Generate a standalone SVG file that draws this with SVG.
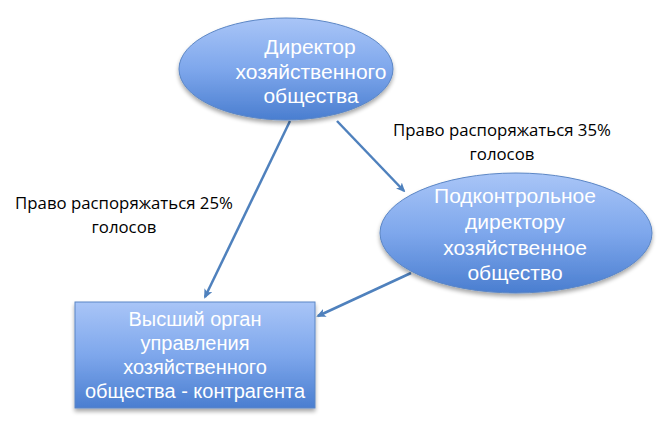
<svg xmlns="http://www.w3.org/2000/svg" width="672" height="429" viewBox="0 0 672 429">
<defs>
<linearGradient id="g" x1="0" y1="0" x2="0" y2="1">
<stop offset="0" stop-color="#a9c5f7"/>
<stop offset="0.5" stop-color="#7ea7ec"/>
<stop offset="1" stop-color="#4a7ed0"/>
</linearGradient>
<filter id="sh" x="-10%" y="-10%" width="120%" height="130%">
<feGaussianBlur in="SourceAlpha" stdDeviation="2"/>
<feOffset dy="3" result="b"/>
<feComponentTransfer><feFuncA type="linear" slope="0.35"/></feComponentTransfer>
<feMerge><feMergeNode/><feMergeNode in="SourceGraphic"/></feMerge>
</filter>
<marker id="ah" viewBox="0 0 10 10" refX="8" refY="5" markerWidth="3.8" markerHeight="3.8" orient="auto">
<path d="M0,0.5 L10,5 L0,9.5 L2.5,5 Z" fill="#4f81bd"/>
</marker>
</defs>
<style>
.n{fill:url(#g);stroke:#5b86c5;stroke-width:1;filter:url(#sh)}
.t{font-family:"Liberation Sans",Arial,sans-serif;font-size:20px;fill:#fff;text-anchor:middle}
.e{font-size:21px}
.l{font-family:"Open Sans","Liberation Sans",sans-serif;font-size:16.8px;fill:#000;text-anchor:middle}
.c{stroke:#4f81bd;stroke-width:2.5;fill:none;marker-end:url(#ah)}
</style>
<rect width="672" height="429" fill="#fff"/>
<g id="connectors">
<line class="c" x1="290" y1="121" x2="205" y2="297"/>
<line class="c" x1="337" y1="121" x2="404" y2="191"/>
<line class="c" x1="411" y1="273" x2="318" y2="316"/>
</g>
<g id="director">
<ellipse class="n" cx="286" cy="69" rx="107" ry="51"/>
<text class="t e" x="310" y="54">Директор</text>
<text class="t e" x="311" y="78.5">хозяйственного</text>
<text class="t e" x="311" y="103">общества</text>
</g>
<g id="controlled">
<ellipse class="n" cx="516" cy="233" rx="136" ry="60"/>
<text class="t e" x="515" y="203">Подконтрольное</text>
<text class="t e" x="515" y="229">директору</text>
<text class="t e" x="515" y="255">хозяйственное</text>
<text class="t e" x="515" y="280">общество</text>
</g>
<g id="organ">
<rect class="n" x="75" y="302" width="240" height="106"/>
<text class="t" x="195" y="326">Высший орган</text>
<text class="t" x="195" y="350">управления</text>
<text class="t" x="195" y="374">хозяйственного</text>
<text class="t" x="195" y="398">общества - контрагента</text>
</g>
<g id="labels">
<text class="l" x="502" y="136">Право распоряжаться 35%</text>
<text class="l" x="502" y="160">голосов</text>
<text class="l" x="124" y="209">Право распоряжаться 25%</text>
<text class="l" x="124" y="233">голосов</text>
</g>
</svg>
